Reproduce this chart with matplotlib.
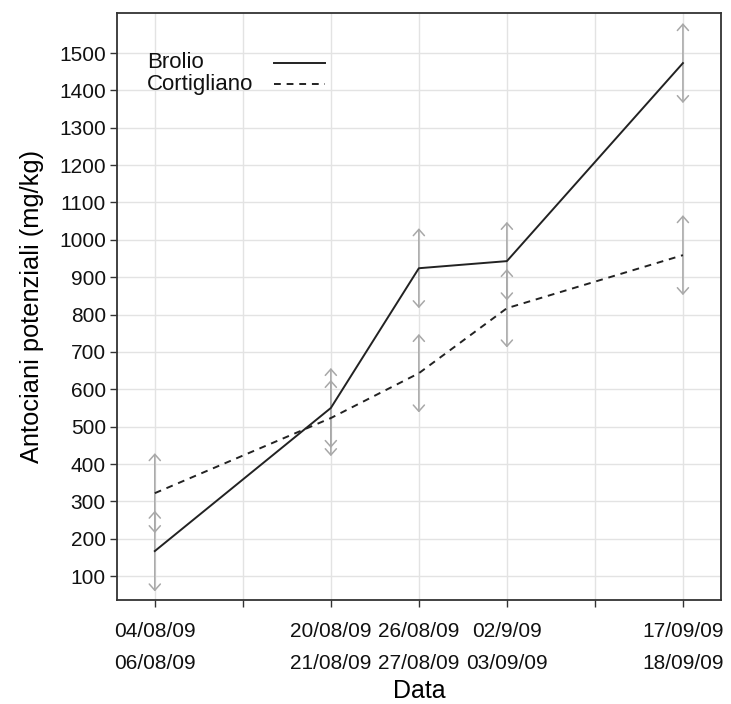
import matplotlib
matplotlib.use('Agg')
import matplotlib.pyplot as plt
import numpy as np

plt.rcParams['font.family'] = ['Liberation Sans', 'DejaVu Sans']

# campionamenti (posizione sull'asse = indice)
pos = [0, 2, 3, 4, 6]
date1 = ['04/08/09', '', '20/08/09', '26/08/09', '02/9/09', '', '17/09/09']
date2 = ['06/08/09', '', '21/08/09', '27/08/09', '03/09/09', '', '18/09/09']

brolio = [167, 550, 924, 943, 1473]
brolio_err = [108, 107, 107, 105, 107]
cortigliano = [322, 523, 643, 817, 959]
cortigliano_err = [107, 102, 105, 105, 107]

fig = plt.figure(figsize=(7.31, 7.04), dpi=100)
ax = fig.add_axes([0.160, 0.1477, 0.826, 0.8338])

grid_col = '#e3e3e3'
bar_col = '#a8a8a8'
line_col = '#222222'
dash = (0, (3.5, 3))

for x in range(7):
    ax.axvline(x, color=grid_col, lw=1, zorder=0)
for y in range(100, 1600, 100):
    ax.axhline(y, color=grid_col, lw=1, zorder=0)

# barre di errore con frecce
for vals, errs in [(brolio, brolio_err), (cortigliano, cortigliano_err)]:
    for x, v, e in zip(pos, vals, errs):
        ax.annotate('', xy=(x, v + e), xytext=(x, v - e),
                    arrowprops=dict(arrowstyle='<->,head_length=0.45,head_width=0.4',
                                    color=bar_col, lw=1.1, shrinkA=0, shrinkB=0),
                    zorder=2)

ax.plot(pos, brolio, color=line_col, lw=1.4, ls='-', zorder=3)
ax.plot(pos, cortigliano, color=line_col, lw=1.4, ls=dash, zorder=3)

ax.set_xlim(-0.43, 6.43)
ax.set_ylim(36, 1607)
ax.set_yticks(range(100, 1600, 100))
ax.set_xticks(range(7))
ax.set_xticklabels([a + '\n' + b if a else '' for a, b in zip(date1, date2)],
                   linespacing=1.85)

ax.tick_params(axis='both', direction='out', length=5, width=1, color='#333333',
               labelsize=15, colors='#111111')
ax.tick_params(axis='x', pad=11)
ax.tick_params(axis='y', pad=3)
for s in ax.spines.values():
    s.set_color('#333333')
    s.set_linewidth(1.3)

ax.set_xlabel('Data', fontsize=18, labelpad=4)
ax.set_ylabel('Antociani potenziali (mg/kg)', fontsize=18.3, labelpad=11)

# legenda in stile R: testo a sinistra, linea a destra
leg_names = ['Brolio', 'Cortigliano']
leg_styles = ['-', dash]
for i, (name, st) in enumerate(zip(leg_names, leg_styles)):
    yy = 0.915 - i * 0.036
    ax.text(0.0497, yy, name, transform=ax.transAxes, fontsize=16,
            ha='left', va='center', color='#111111')
    ax.plot([0.26, 0.344], [yy, yy], transform=ax.transAxes, color=line_col,
            lw=1.4, ls=st, zorder=3)

plt.savefig('out.png', dpi=100)
